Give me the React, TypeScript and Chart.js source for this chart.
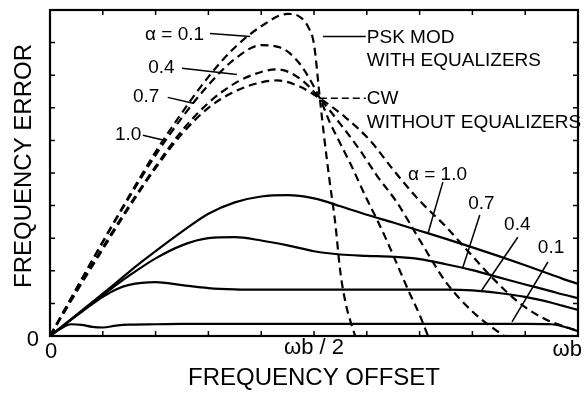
import React, { useEffect, useRef } from "react";
import { Chart, registerables } from "chart.js";

Chart.register(...registerables);

// ---- Solid curves: PSK MOD with equalizers ----
const solidX = [0, 0.02, 0.04, 0.06, 0.08, 0.1, 0.125, 0.15, 0.2, 0.25, 0.3, 0.35, 0.4, 0.45, 0.5, 0.55, 0.6, 0.65, 0.7, 0.75, 0.8, 0.85, 0.9, 0.95, 0.97, 1.0];
const pskA10 = [0, 0.26, 0.52, 0.78, 1.04, 1.3, 1.63, 1.97, 2.6, 3.2, 3.75, 4.1, 4.28, 4.32, 4.22, 3.98, 3.72, 3.48, 3.23, 2.98, 2.72, 2.45, 2.17, 1.88, 1.76, 1.6];
const pskA07 = [0, 0.25, 0.5, 0.75, 1.0, 1.25, 1.56, 1.85, 2.38, 2.78, 3.0, 3.03, 2.93, 2.78, 2.6, 2.5, 2.46, 2.43, 2.36, 2.2, 2.02, 1.8, 1.58, 1.37, 1.28, 1.16];
const pskA04 = [0, 0.25, 0.5, 0.74, 0.98, 1.2, 1.43, 1.57, 1.65, 1.56, 1.47, 1.43, 1.42, 1.42, 1.42, 1.42, 1.42, 1.42, 1.42, 1.42, 1.4, 1.32, 1.2, 1.02, 0.93, 0.8];
const pskA01 = [0, 0.22, 0.36, 0.34, 0.28, 0.26, 0.32, 0.35, 0.36, 0.37, 0.37, 0.37, 0.37, 0.37, 0.37, 0.37, 0.37, 0.37, 0.37, 0.37, 0.37, 0.37, 0.37, 0.36, 0.3, 0.15];

// ---- Dashed curves: CW without equalizers ----
const cwA01X = [0, 0.05, 0.1, 0.15, 0.2, 0.25, 0.3, 0.35, 0.4, 0.45, 0.47, 0.49, 0.5, 0.511, 0.52, 0.53, 0.54, 0.55, 0.56, 0.57, 0.578];
const cwA01Y = [0, 1.45, 2.9, 4.3, 5.65, 6.85, 7.95, 8.85, 9.5, 9.88, 9.82, 9.45, 8.95, 7.3, 6.0, 4.7, 3.5, 1.95, 1.0, 0.4, 0];
const cwA04X = [0, 0.05, 0.1, 0.15, 0.2, 0.25, 0.3, 0.35, 0.4, 0.436, 0.473, 0.511, 0.53, 0.55, 0.57, 0.6, 0.62, 0.64, 0.66, 0.68, 0.7, 0.716];
const cwA04Y = [0, 1.45, 2.88, 4.25, 5.55, 6.7, 7.7, 8.5, 8.92, 8.85, 8.35, 7.29, 6.55, 5.9, 5.25, 4.2, 3.55, 2.85, 2.1, 1.35, 0.65, 0];
const cwA07X = [0, 0.05, 0.1, 0.15, 0.2, 0.25, 0.3, 0.35, 0.4, 0.43, 0.473, 0.511, 0.55, 0.587, 0.62, 0.657, 0.7, 0.75, 0.8, 0.83, 0.86];
const cwA07Y = [0, 1.38, 2.72, 4.0, 5.2, 6.3, 7.15, 7.75, 8.1, 8.18, 7.9, 7.29, 6.5, 5.7, 4.9, 4.1, 2.95, 1.65, 0.75, 0.35, 0];
const cwA10X = [0, 0.05, 0.1, 0.15, 0.2, 0.25, 0.3, 0.35, 0.4, 0.43, 0.473, 0.511, 0.56, 0.606, 0.65, 0.7, 0.75, 0.79, 0.84, 0.89, 0.94, 0.97, 1.0];
const cwA10Y = [0, 1.35, 2.66, 3.95, 5.15, 6.2, 7.0, 7.5, 7.78, 7.84, 7.65, 7.29, 6.7, 6.0, 5.1, 4.15, 3.35, 2.63, 1.75, 1.0, 0.5, 0.32, 0.15];

// ---- Axes ----
const xMin = 0, xMax = 1, yMin = 0, yMax = 10;
const xTickValues = [0, 0.1, 0.2, 0.3, 0.4, 0.5, 0.6, 0.7, 0.8, 0.9, 1.0];
const yTickValues = [0, 1, 2, 3, 4, 5, 6, 7, 8, 9, 10];
const xTickLabelValues = [0, 0.5, 1.0];
const xTickLabels = ["0", "ωb / 2", "ωb"];
const yTickLabels = ["0"];
const xTitle = "FREQUENCY OFFSET";
const yTitle = "FREQUENCY ERROR";

// ---- Annotations (data coordinates) ----
const noteTexts = ["α = 0.1", "0.4", "0.7", "1.0", "PSK MOD", "WITH EQUALIZERS", "CW", "WITHOUT EQUALIZERS", "α = 1.0", "0.7", "0.4", "0.1"];
const noteX = [0.18, 0.186, 0.157, 0.123, 0.6, 0.6, 0.6, 0.6, 0.678, 0.792, 0.86, 0.924];
const noteY = [9.25, 8.24, 7.35, 6.16, 9.16, 8.45, 7.29, 6.55, 4.96, 4.07, 3.4, 2.7];
const leadX1 = [0.303, 0.25, 0.223, 0.176, 0.517, 0.511, 0.744, 0.814, 0.886, 0.943];
const leadY1 = [9.28, 8.21, 7.32, 6.16, 9.19, 7.29, 4.72, 3.71, 3.03, 2.27];
const leadX2 = [0.379, 0.354, 0.271, 0.218, 0.598, 0.598, 0.716, 0.782, 0.818, 0.875];
const leadY2 = [9.19, 8.02, 7.14, 6.0, 9.19, 7.29, 3.15, 2.11, 1.41, 0.43];
const leadDashed = [false, false, false, false, false, true, false, false, false, false];

const FONT = '"Liberation Sans", Arial, Helvetica, sans-serif';

function pts(xs: number[], ys: number[]) {
  return xs.map((x, i) => ({ x, y: ys[i] }));
}

const decorPlugin = {
  id: "decor",
  afterDraw(chart: any) {
    const { ctx, chartArea, scales } = chart;
    const { left, right, top, bottom } = chartArea;
    const xs = scales.x, ys = scales.y;
    ctx.save();
    ctx.strokeStyle = "#000";
    ctx.fillStyle = "#000";
    ctx.setLineDash([]);
    // frame
    ctx.lineWidth = 2.2;
    ctx.strokeRect(left, top, right - left, bottom - top);
    // inward ticks
    ctx.lineWidth = 1.5;
    const tl = 5;
    ctx.beginPath();
    xTickValues.forEach((v) => {
      const px = xs.getPixelForValue(v);
      ctx.moveTo(px, bottom); ctx.lineTo(px, bottom - tl);
      ctx.moveTo(px, top); ctx.lineTo(px, top + tl);
    });
    yTickValues.forEach((v) => {
      const py = ys.getPixelForValue(v);
      ctx.moveTo(left, py); ctx.lineTo(left + tl, py);
      ctx.moveTo(right, py); ctx.lineTo(right - tl, py);
    });
    ctx.stroke();

    // tick labels
    ctx.font = "22px " + FONT;
    ctx.textBaseline = "middle";
    xTickLabelValues.forEach((v, i) => {
      const px = xs.getPixelForValue(v);
      if (i === xTickLabels.length - 1) {
        ctx.textAlign = "right";
        ctx.fillText(xTickLabels[i], px + 4, bottom + 14);
      } else {
        ctx.textAlign = "center";
        ctx.fillText(xTickLabels[i], px + (i === 0 ? 1 : 0), bottom + (i === 0 ? 16 : 12));
      }
    });
    ctx.textAlign = "right";
    ctx.fillText(yTickLabels[0], left - 11, ys.getPixelForValue(0) + 4);

    // axis titles
    ctx.font = "24px " + FONT;
    ctx.textAlign = "center";
    ctx.fillText(xTitle, (xs.getPixelForValue(0.5)), bottom + 42);
    ctx.save();
    ctx.translate(24, (top + bottom) / 2 - 7);
    ctx.rotate(-Math.PI / 2);
    ctx.fillText(yTitle, 0, 0);
    ctx.restore();

    // leaders
    ctx.lineWidth = 1.5;
    leadX1.forEach((_, i) => {
      ctx.setLineDash(leadDashed[i] ? [7, 4] : []);
      ctx.beginPath();
      ctx.moveTo(xs.getPixelForValue(leadX1[i]), ys.getPixelForValue(leadY1[i]));
      ctx.lineTo(xs.getPixelForValue(leadX2[i]), ys.getPixelForValue(leadY2[i]));
      ctx.stroke();
    });
    ctx.setLineDash([]);

    // notes
    ctx.font = "19px " + FONT;
    ctx.textAlign = "left";
    ctx.textBaseline = "middle";
    noteTexts.forEach((t, i) => {
      ctx.fillText(t, xs.getPixelForValue(noteX[i]), ys.getPixelForValue(noteY[i]));
    });
    ctx.restore();
  },
};

export default function App() {
  const ref = useRef<HTMLCanvasElement | null>(null);
  useEffect(() => {
    if (!ref.current) return;
    const solid = (ys: number[]) => ({
      data: pts(solidX, ys),
      borderColor: "#000",
      borderWidth: 2.2,
      pointRadius: 0,
      fill: false,
      cubicInterpolationMode: "monotone" as const,
    });
    const dashed = (xs: number[], ys: number[]) => ({
      data: pts(xs, ys),
      borderColor: "#000",
      borderWidth: 2.2,
      borderDash: [8, 5],
      pointRadius: 0,
      fill: false,
      cubicInterpolationMode: "monotone" as const,
    });
    const chart = new Chart(ref.current, {
      type: "line",
      data: {
        datasets: [
          solid(pskA10),
          solid(pskA07),
          solid(pskA04),
          solid(pskA01),
          dashed(cwA01X, cwA01Y),
          dashed(cwA04X, cwA04Y),
          dashed(cwA07X, cwA07Y),
          dashed(cwA10X, cwA10Y),
        ] as any,
      },
      options: {
        animation: false,
        responsive: false,
        devicePixelRatio: 1,
        layout: { padding: { left: 50, right: 7, top: 10, bottom: 59 } },
        plugins: { legend: { display: false }, tooltip: { enabled: false } },
        scales: {
          x: { type: "linear", min: xMin, max: xMax, display: false },
          y: { type: "linear", min: yMin, max: yMax, display: false },
        },
      },
      plugins: [decorPlugin],
    });
    return () => chart.destroy();
  }, []);
  return (
    <div style={{ position: "absolute", left: 0, top: 0, width: 585, height: 395, background: "#fff" }}>
      <canvas ref={ref} width={585} height={395} />
    </div>
  );
}
